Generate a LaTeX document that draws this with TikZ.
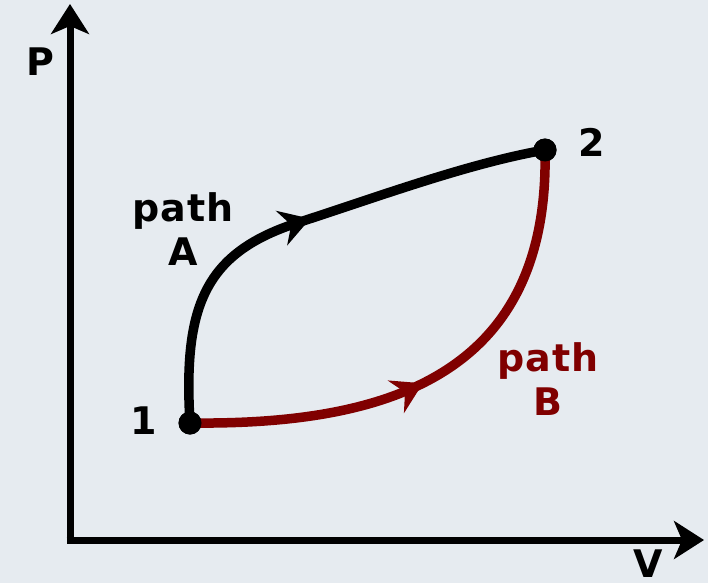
\documentclass[tikz,border=0pt]{standalone}
\usepackage{fontspec}
\setmainfont{DejaVu Sans}
\usetikzlibrary{arrows.meta,decorations.markings}
\definecolor{bg}{RGB}{230,235,240}
\definecolor{pathred}{RGB}{128,0,0}
\tikzset{
  axis/.style={line width=7pt,-{Stealth[length=30pt,width=38pt,inset=8pt]}},
  curve/.style={line width=9.5pt},
  dot/.style={circle,fill=black,inner sep=0pt,minimum size=23pt},
  lbl/.style={font=\fontsize{38}{44}\selectfont\bfseries\addfontfeature{LetterSpace=3},align=center,inner sep=0pt},
  midarrow/.style={postaction={decorate,decoration={markings,mark=at position #1 with {\arrow{Stealth[length=30pt,width=36pt,inset=10pt]}}}}}
}
\begin{document}
\begin{tikzpicture}[x=1pt,y=-1pt]
\fill[bg] (0,0) rectangle (708,583);
\useasboundingbox (0,0) rectangle (708,583);
\coordinate (O) at (70,540);
\coordinate (Ytop) at (70,4);
\coordinate (Xend) at (704,540);
\draw[axis] (70,543.5) -- (Ytop);
\draw[axis] (66.5,540) -- (Xend);
\node[dot] (p1) at (190,423) {};
\node[dot] (p2) at (545,150) {};
\draw[curve,pathred,midarrow=0.46] (p1.center) .. controls (380,425) and (550,380) .. (p2.center);
\draw[curve,black,midarrow=0.52] (p1.center) .. controls (183,305) and (205,252) .. (300,222) .. controls (380,196) and (470,163) .. (p2.center);
\node[dot] at (p1) {};
\node[dot] at (p2) {};
\node[lbl] (lP) at (40,62) {P};
\node[lbl] (lV) at (648,564) {V};
\node[lbl] (l1) at (144,421) {1};
\node[lbl] (l2) at (592,142) {2};
\node[lbl,anchor=base] (lA) at (183,265) {path\\A};
\node[lbl,anchor=base,text=pathred] (lB) at (548,415) {path\\B};
\end{tikzpicture}
\end{document}
